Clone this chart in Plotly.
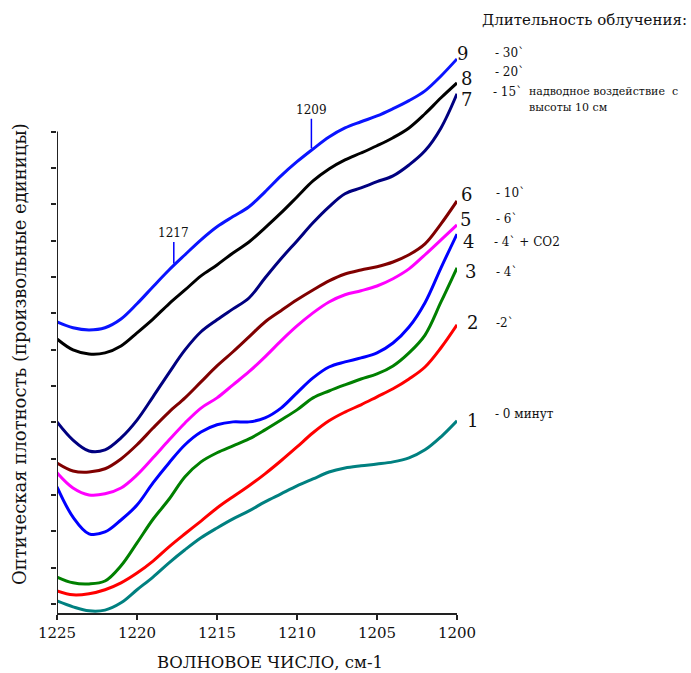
import plotly.graph_objects as go

# ---------------- data ----------------
wavenumber = [1225, 1224, 1223, 1222, 1221, 1220, 1219, 1218, 1217, 1216, 1215, 1214, 1213,
              1212, 1211, 1210, 1209, 1208, 1207, 1206, 1205, 1204, 1203, 1202, 1201, 1200]

curve_1 = [0.08, -0.08, -0.19, -0.17, 0.03, 0.39, 0.74, 1.13, 1.49, 1.82, 2.09, 2.34, 2.56,
           2.81, 3.03, 3.25, 3.44, 3.63, 3.74, 3.80, 3.85, 3.91, 4.02, 4.24, 4.60, 5.04]
curve_2 = [0.36, 0.25, 0.28, 0.39, 0.58, 0.85, 1.18, 1.57, 1.93, 2.28, 2.64, 2.95, 3.25,
           3.58, 3.94, 4.32, 4.71, 5.04, 5.28, 5.48, 5.70, 5.92, 6.19, 6.52, 7.05, 7.68]
curve_3 = [0.74, 0.58, 0.55, 0.63, 1.05, 1.68, 2.33, 2.88, 3.50, 3.91, 4.16, 4.35, 4.54,
           4.79, 5.06, 5.34, 5.67, 5.86, 6.03, 6.19, 6.33, 6.55, 6.91, 7.40, 8.31, 9.25]
curve_4 = [3.22, 2.39, 1.93, 1.98, 2.31, 2.72, 3.33, 3.88, 4.38, 4.73, 4.93, 5.01, 5.01,
           5.12, 5.39, 5.81, 6.22, 6.52, 6.66, 6.77, 6.91, 7.18, 7.62, 8.29, 9.25, 10.18]
curve_5 = [3.61, 3.19, 3.00, 3.03, 3.19, 3.55, 4.02, 4.51, 4.98, 5.39, 5.67, 6.03, 6.39,
           6.80, 7.24, 7.65, 8.01, 8.31, 8.51, 8.62, 8.75, 8.95, 9.22, 9.61, 10.02, 10.43]
curve_6 = [3.88, 3.66, 3.63, 3.72, 3.99, 4.38, 4.84, 5.28, 5.67, 6.11, 6.55, 6.94, 7.35,
           7.76, 8.07, 8.37, 8.64, 8.89, 9.08, 9.19, 9.28, 9.41, 9.61, 9.91, 10.46, 11.09]
curve_7 = [5.01, 4.51, 4.21, 4.24, 4.57, 5.06, 5.70, 6.36, 6.99, 7.49, 7.82, 8.12, 8.42,
           8.97, 9.50, 9.99, 10.49, 10.93, 11.29, 11.45, 11.62, 11.78, 12.08, 12.47, 13.10, 14.04]
curve_8 = [7.29, 6.99, 6.88, 6.91, 7.10, 7.46, 7.84, 8.26, 8.64, 9.03, 9.33, 9.66, 9.96,
           10.35, 10.76, 11.20, 11.64, 11.97, 12.22, 12.41, 12.61, 12.83, 13.10, 13.49, 13.93, 14.34]
curve_9 = [7.76, 7.60, 7.54, 7.60, 7.84, 8.26, 8.73, 9.19, 9.61, 10.02, 10.38, 10.66, 10.93,
           11.34, 11.78, 12.17, 12.52, 12.85, 13.10, 13.27, 13.43, 13.63, 13.85, 14.12, 14.53, 15.00]

curve_numbers = ["1", "2", "3", "4", "5", "6", "7", "8", "9"]
curve_descr = ["- 0 минут", "-2`", "- 4`", "- 4` + CO2", "- 6`", "- 10`", "- 15`", "- 20`", "- 30`"]
x_ticks = [1225, 1220, 1215, 1210, 1205, 1200]
y_ticks = list(range(0, 14))
peak_labels = ["1217", "1209"]
peak_positions = [1217.7, 1209.1]

curves = [curve_1, curve_2, curve_3, curve_4, curve_5, curve_6, curve_7, curve_8, curve_9]
colors = ["#008080", "#FF0000", "#008000", "#0000FF", "#FF00FF", "#800000", "#000080", "#000000", "#0A14FF"]

FONT = "DejaVu Serif"
W, H = 691, 673
L, R, T, B = 57, 234, 40, 60
PW, PH = W - L - R, H - T - B


def px(x):
    return (x - L) / PW


def py(y):
    return (H - B - y) / PH


fig = go.Figure()
for name, ys, col in zip(curve_numbers, curves, colors):
    fig.add_trace(go.Scatter(x=wavenumber, y=ys, mode="lines", name=name,
                             line=dict(color=col, width=3, shape="spline", smoothing=1.0),
                             showlegend=False, hoverinfo="skip"))

ann = []
# curve number labels
num_pos = [(472, 420), (472, 322), (470, 271), (468, 242), (465, 219), (467, 194), (466, 99), (466, 78), (463, 53)]
for t, (x, y) in zip(curve_numbers, num_pos):
    ann.append(dict(x=px(x), y=py(y), xref="paper", yref="paper", text=t, showarrow=False,
                    font=dict(family=FONT, size=18, color="#111"), xanchor="center", yanchor="middle",
                    borderpad=0))
# descriptions
desc_pos = [(493, 414), (494, 323), (494, 272), (492, 242), (494, 219), (494, 193), (491, 92), (493, 72), (493, 53)]
for t, (x, y) in zip(curve_descr, desc_pos):
    ann.append(dict(x=px(x), y=py(y), xref="paper", yref="paper", text=t, showarrow=False,
                    font=dict(family=FONT, size=12, color="#111"), xanchor="left", yanchor="middle"))
ann.append(dict(x=px(527), y=py(91), xref="paper", yref="paper", text="надводное воздействие  с",
                showarrow=False, font=dict(family=FONT, size=11, color="#111"), xanchor="left", yanchor="middle"))
ann.append(dict(x=px(527), y=py(108), xref="paper", yref="paper", text="высоты 10 см",
                showarrow=False, font=dict(family=FONT, size=11, color="#111"), xanchor="left", yanchor="middle"))
ann.append(dict(x=px(480), y=py(20), xref="paper", yref="paper", text="Длительность облучения:",
                showarrow=False, font=dict(family=FONT, size=15, color="#111"), xanchor="left", yanchor="middle"))
# axis titles
ann.append(dict(x=px(270), y=py(662), xref="paper", yref="paper", text="ВОЛНОВОЕ ЧИСЛО, см-1",
                showarrow=False, font=dict(family=FONT, size=16.5, color="#111"), xanchor="center", yanchor="middle"))
ann.append(dict(x=px(19), y=py(354), xref="paper", yref="paper",
                text="Оптическая плотность (произвольные единицы)",
                textangle=-90, showarrow=False, font=dict(family=FONT, size=18, color="#111"),
                xanchor="center", yanchor="middle"))
# peak markers on curve 9
for lab, pos, ay in zip(peak_labels, peak_positions, [-32, -40]):
    i = min(range(len(wavenumber)), key=lambda k: abs(wavenumber[k] - pos))
    j = i + 1 if wavenumber[i] > pos else i - 1
    x0, x1, y0, y1 = wavenumber[i], wavenumber[j], curve_9[i], curve_9[j]
    yv = y0 + (y1 - y0) * (pos - x0) / (x1 - x0)
    ann.append(dict(x=pos, y=yv, xref="x", yref="y", text=lab, showarrow=True, arrowhead=0,
                    arrowwidth=1.5, arrowcolor="#0000FF", ax=0, ay=ay, standoff=2,
                    font=dict(family=FONT, size=12, color="#111")))

fig.update_layout(
    width=W, height=H, margin=dict(l=L, r=R, t=T, b=B),
    paper_bgcolor="white", plot_bgcolor="white",
    annotations=ann,
    shapes=[dict(type="line", xref="x", yref="y", x0=1225, x1=1225, y0=-0.25, y1=13,
                 line=dict(color="#222", width=2))],
    xaxis=dict(range=[1225, 1200], tickvals=x_ticks, ticktext=[str(v) for v in x_ticks],
               showline=True, linecolor="#222", linewidth=2, ticks="outside", ticklen=5,
               tickwidth=1.5, tickcolor="#222", showgrid=False, zeroline=False,
               tickfont=dict(family=FONT, size=15, color="#111")),
    yaxis=dict(range=[-0.25, 15.52], tickvals=y_ticks, showticklabels=False,
               showline=False, ticks="outside", ticklen=5, tickwidth=1.5, tickcolor="#222",
               showgrid=False, zeroline=False),
)

fig.write_html("out.html")
